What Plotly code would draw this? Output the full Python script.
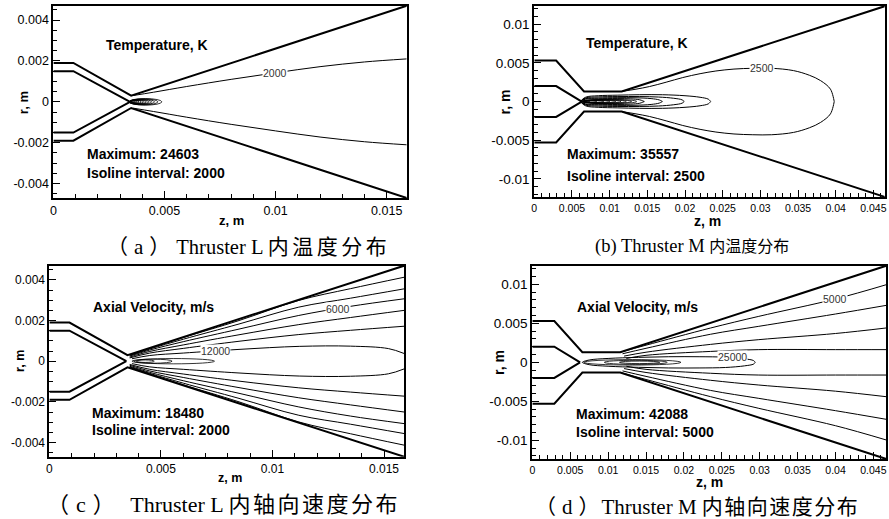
import plotly.graph_objects as go

# ---------------- tick labels ----------------
L_xtick_vals = [0, 0.005, 0.01, 0.015]
L_xtick_text = ["0", "0.005", "0.01", "0.015"]
L_ytick_vals = [0.004, 0.002, 0, -0.002, -0.004]
L_ytick_text = ["0.004", "0.002", "0", "-0.002", "-0.004"]
M_xtick_vals = [0, 0.005, 0.01, 0.015, 0.02, 0.025, 0.03, 0.035, 0.04, 0.045]
M_xtick_text = ["0", "0.005", "0.01", "0.015", "0.02", "0.025", "0.03", "0.035", "0.04", "0.045"]
M_ytick_vals = [0.01, 0.005, 0, -0.005, -0.01]
M_ytick_text = ["0.01", "0.005", "0", "-0.005", "-0.01"]

# ---------------- nozzle geometry (upper half, mirrored) ----------------
L_outer_z = [0, 0.0009, 0.0035, 0.0159]
L_outer_r = [0.0019, 0.0019, 0.0003, 0.0047]
L_cath_z = [0, 0.0009, 0.00345]
L_cath_r = [0.0015, 0.0015, 0.0]
M_outer_z = [0, 0.0029, 0.0066, 0.0116, 0.0467]
M_outer_r = [0.0053, 0.0053, 0.0013, 0.0013, 0.0124]
M_cath_z = [0, 0.0029, 0.0063]
M_cath_r = [0.002, 0.002, 0.0]

# ---------------- (a) temperature, thruster L ----------------
A_T2000_z = [0.0036, 0.0045, 0.006, 0.008, 0.010, 0.012, 0.014, 0.0159]
A_T2000_r = [0.00031, 0.00047, 0.00075, 0.00110, 0.00142, 0.00172, 0.00195, 0.00210]
A_loop_z0 = [0.00340, 0.00341, 0.00342, 0.00343, 0.00344, 0.00345, 0.00346, 0.00347, 0.00348, 0.00349, 0.00350]
A_loop_z1 = [0.00488, 0.00470, 0.00455, 0.00442, 0.00430, 0.00418, 0.00406, 0.00395, 0.00385, 0.00376, 0.00367]
A_loop_h = [0.00016, 0.000145, 0.00013, 0.000115, 0.0001, 0.00009, 0.00008, 0.00007, 0.00006, 0.00005, 0.00004]

# ---------------- (b) temperature, thruster M ----------------
B_T2500_z = [0.0116, 0.0135, 0.0153, 0.0175, 0.0197, 0.0220, 0.0241, 0.0265, 0.0290, 0.0315, 0.0344, 0.0365, 0.0380, 0.0393, 0.0398]
B_T2500_r = [0.0013, 0.0016, 0.00194, 0.0025, 0.0031, 0.0036, 0.00395, 0.0042, 0.0043, 0.0043, 0.0040, 0.0034, 0.0027, 0.0016, 0.0]
B_T5000_z = [0.0062, 0.0068, 0.0085, 0.0110, 0.0140, 0.0170, 0.0200, 0.0220, 0.0231, 0.0234]
B_T5000_r = [0.0, 0.00055, 0.00075, 0.00082, 0.00088, 0.00088, 0.00075, 0.00055, 0.00030, 0.0]
B_T7500_z = [0.0062, 0.0068, 0.0085, 0.0110, 0.0140, 0.0165, 0.0185, 0.0196, 0.0199]
B_T7500_r = [0.0, 0.00045, 0.0006, 0.00064, 0.00064, 0.00058, 0.00042, 0.00022, 0.0]
B_T10000_z = [0.0062, 0.0068, 0.0085, 0.0110, 0.0135, 0.0155, 0.0166, 0.0170]
B_T10000_r = [0.0, 0.00036, 0.00046, 0.0005, 0.00048, 0.00038, 0.0002, 0.0]
B_T12500_z = [0.0062, 0.0068, 0.0085, 0.0110, 0.0128, 0.0140, 0.0146]
B_T12500_r = [0.0, 0.0003, 0.00036, 0.00038, 0.00034, 0.00022, 0.0]
B_loop_z0 = [0.0063, 0.0063, 0.0064, 0.0064, 0.0065, 0.0065, 0.0066, 0.0066, 0.0067]
B_loop_z1 = [0.0136, 0.0129, 0.0122, 0.0115, 0.0108, 0.0100, 0.0092, 0.0083, 0.0074]
B_loop_h = [0.00028, 0.00025, 0.00022, 0.0002, 0.00017, 0.00015, 0.00012, 0.0001, 0.00007]

# ---------------- (c) axial velocity, thruster L ----------------
C_z = [0.0036, 0.0045, 0.006, 0.0085, 0.01118, 0.0135, 0.0159]
C_V2000_r = [0.00031, 0.00063, 0.00116, 0.0020, 0.00299, 0.00357, 0.00413]
C_V4000_r = [0.00028, 0.0006, 0.00108, 0.00183, 0.00266, 0.0031, 0.00356]
C_V6000_r = [0.00025, 0.00055, 0.00096, 0.00158, 0.00225, 0.0027, 0.00307]
C_V8000_r = [0.0002, 0.00048, 0.0008, 0.0013, 0.0018, 0.00215, 0.0025]
C_V10000_r = [0.00016, 0.0004, 0.00063, 0.00098, 0.00131, 0.00152, 0.00172]
C_V12000_z = [0.0037, 0.0045, 0.006, 0.0085, 0.0112, 0.0135, 0.0152, 0.0159]
C_V12000_r = [0.00012, 0.00028, 0.0004, 0.00058, 0.00073, 0.00074, 0.00062, 0.00038]
C_loop_z0 = [0.0037, 0.0038, 0.0039]
C_loop_z1 = [0.0074, 0.0055, 0.0047]
C_loop_h = [0.00013, 0.0001, 0.00006]

# ---------------- (d) axial velocity, thruster M ----------------
D_V5000_z = [0.0117, 0.015, 0.0235, 0.02988, 0.0400, 0.0467]
D_V5000_r = [0.00132, 0.0022, 0.0044, 0.0059, 0.00813, 0.00996]
D_V10000_z = [0.0119, 0.015, 0.0235, 0.02988, 0.0400, 0.0467]
D_V10000_r = [0.0011, 0.0018, 0.0036, 0.00462, 0.0062, 0.00731]
D_V15000_z = [0.0121, 0.015, 0.0235, 0.02988, 0.0400, 0.0467]
D_V15000_r = [0.0008, 0.0013, 0.0023, 0.00291, 0.0037, 0.00441]
D_V20000_z = [0.0124, 0.015, 0.0235, 0.02988, 0.0400, 0.0467]
D_V20000_r = [0.0005, 0.0009, 0.0014, 0.00163, 0.00163, 0.00163]
D_V25000_z = [0.0066, 0.0075, 0.0100, 0.0140, 0.0180, 0.0220, 0.0255, 0.0280, 0.0292, 0.0294]
D_V25000_r = [0.0, 0.0003, 0.0005, 0.00064, 0.00072, 0.00072, 0.00066, 0.00045, 0.00022, 0.0]
D_loop_z0 = [0.0068, 0.0095, 0.0115]
D_loop_z1 = [0.0196, 0.0178, 0.0168]
D_loop_h = [0.00035, 0.00026, 0.00016]

# ---------------- texts ----------------
titles = ["Temperature, K", "Temperature, K", "Axial Velocity, m/s", "Axial Velocity, m/s"]
maxima = ["Maximum: 24603", "Maximum: 35557", "Maximum: 18480", "Maximum: 42088"]
intervals = ["Isoline interval: 2000", "Isoline interval: 2500", "Isoline interval: 2000", "Isoline interval: 5000"]
# caption pieces: (opening, closing, latin part, chinese part)
caption_parts = [("（a", "）", "Thruster L ", "内温度分布"),
                 ("(b", ") ", "Thruster M ", "内温度分布"),
                 ("（c", "） ", "Thruster L ", "内轴向速度分布"),
                 ("（d", "）", "Thruster M ", "内轴向速度分布")]

ARIAL = "Arial, Liberation Sans, sans-serif"
SERIF = "Liberation Serif, Times New Roman, Noto Sans CJK SC, serif"


def sym_open(z, r):
    return list(z) + [None] + list(z), list(r) + [None] + [-v for v in r]


def sym_loop(z, r):
    return list(z) + list(z)[::-1], list(r) + [-v for v in list(r)[::-1]]


fig = go.Figure()


def add_lines(segs, k, width, shape):
    xs, ys = [], []
    for sx, sy in segs:
        if xs:
            xs.append(None)
            ys.append(None)
        xs += sx
        ys += sy
    sfx = "" if k == 1 else str(k)
    fig.add_trace(go.Scatter(x=xs, y=ys, mode="lines",
                             line=dict(color="black", width=width, shape=shape, smoothing=1.0),
                             xaxis="x" + sfx, yaxis="y" + sfx, hoverinfo="skip", showlegend=False))


shapes = []


def add_ellipses(z0s, z1s, hs, k):
    sfx = "" if k == 1 else str(k)
    for z0, z1, h in zip(z0s, z1s, hs):
        shapes.append(dict(type="circle", xref="x" + sfx, yref="y" + sfx,
                           x0=z0, x1=z1, y0=-h, y1=h,
                           line=dict(color="black", width=0.8)))


# walls
for k, (oz, orr, cz, cr) in enumerate([(L_outer_z, L_outer_r, L_cath_z, L_cath_r),
                                         (M_outer_z, M_outer_r, M_cath_z, M_cath_r),
                                         (L_outer_z, L_outer_r, L_cath_z, L_cath_r),
                                         (M_outer_z, M_outer_r, M_cath_z, M_cath_r)], start=1):
    add_lines([sym_open(oz, orr), sym_open(cz, cr)], k, 2, "linear")

# (a)
add_lines([sym_open(A_T2000_z, A_T2000_r)], 1, 1, "spline")
add_ellipses(A_loop_z0, A_loop_z1, A_loop_h, 1)
# (b)
add_lines([sym_loop(B_T2500_z, B_T2500_r), sym_loop(B_T5000_z, B_T5000_r),
           sym_loop(B_T7500_z, B_T7500_r), sym_loop(B_T10000_z, B_T10000_r),
           sym_loop(B_T12500_z, B_T12500_r)], 2, 1, "spline")
add_ellipses(B_loop_z0, B_loop_z1, B_loop_h, 2)
# (c)
add_lines([sym_open(C_z, C_V2000_r), sym_open(C_z, C_V4000_r), sym_open(C_z, C_V6000_r),
           sym_open(C_z, C_V8000_r), sym_open(C_z, C_V10000_r),
           sym_open(C_V12000_z, C_V12000_r)], 3, 1, "spline")
add_ellipses(C_loop_z0, C_loop_z1, C_loop_h, 3)
# (d)
add_lines([sym_open(D_V5000_z, D_V5000_r), sym_open(D_V10000_z, D_V10000_r),
           sym_open(D_V15000_z, D_V15000_r), sym_open(D_V20000_z, D_V20000_r),
           sym_loop(D_V25000_z, D_V25000_r)], 4, 1, "spline")
add_ellipses(D_loop_z0, D_loop_z1, D_loop_h, 4)

# ---------------- axes ----------------
panels = [
    dict(xd=[0.0570, 0.4567], yd=[0.6185, 0.9890], xr=[0, 0.0159], yr=[-0.0047, 0.0047],
         xv=L_xtick_vals, xt=L_xtick_text, yv=L_ytick_vals, yt=L_ytick_text,
         xminor=0.001, yminor=0.0005, xfs=12.5, yfs=12.5),
    dict(xd=[0.6010, 0.9974], yd=[0.6198, 0.9890], xr=[0, 0.0465], yr=[-0.0124, 0.0124],
         xv=M_xtick_vals, xt=M_xtick_text, yv=M_ytick_vals, yt=M_ytick_text,
         xminor=0.001, yminor=0.001, xfs=10.5, yfs=13.5),
    dict(xd=[0.0525, 0.4537], yd=[0.1200, 0.4881], xr=[0, 0.0159], yr=[-0.0047, 0.0047],
         xv=L_xtick_vals, xt=L_xtick_text, yv=L_ytick_vals, yt=L_ytick_text,
         xminor=0.001, yminor=0.0005, xfs=12, yfs=12),
    dict(xd=[0.5988, 0.9992], yd=[0.1156, 0.4881], xr=[0, 0.0467], yr=[-0.0124, 0.0124],
         xv=M_xtick_vals, xt=M_xtick_text, yv=M_ytick_vals, yt=M_ytick_text,
         xminor=0.001, yminor=0.001, xfs=10.5, yfs=13.5),
]

layout = dict(width=889, height=519, margin=dict(l=0, r=0, t=0, b=0),
              paper_bgcolor="white", plot_bgcolor="white", showlegend=False)

for k, p in enumerate(panels, start=1):
    sfx = "" if k == 1 else str(k)
    common = dict(showline=True, linewidth=2, linecolor="black", mirror=True,
                  showgrid=False, zeroline=False, ticks="inside", ticklen=7,
                  tickwidth=1, tickcolor="black", tickmode="array")
    layout["xaxis" + sfx] = dict(domain=p["xd"], range=p["xr"], anchor="y" + sfx,
                                 tickvals=p["xv"], ticktext=p["xt"],
                                 tickfont=dict(family=ARIAL, size=p["xfs"], color="black"),
                                 minor=dict(ticks="inside", ticklen=4, tickwidth=1, tickcolor="black",
                                            dtick=p["xminor"], tick0=0, showgrid=False),
                                 **common)
    layout["yaxis" + sfx] = dict(domain=p["yd"], range=p["yr"], anchor="x" + sfx,
                                 tickvals=p["yv"], ticktext=p["yt"],
                                 tickfont=dict(family=ARIAL, size=p["yfs"], color="black"),
                                 minor=dict(ticks="inside", ticklen=4, tickwidth=1, tickcolor="black",
                                            dtick=p["yminor"], tick0=0, showgrid=False),
                                 **common)

# ---------------- annotations ----------------
ann = []
text_pos = [
    dict(t=(0.00229, 0.0028), m=(0.00144, -0.00257), i=(0.00144, -0.0035)),
    dict(t=(0.00656, 0.00752), m=(0.00405, -0.0068), i=(0.00405, -0.00964)),
    dict(t=(0.00187, 0.00265), m=(0.00182, -0.00255), i=(0.00182, -0.00338)),
    dict(t=(0.0056, 0.00714), m=(0.00547, -0.00658), i=(0.00547, -0.00888)),
]
for k, tp in enumerate(text_pos, start=1):
    sfx = "" if k == 1 else str(k)
    for key, txt in (("t", titles[k - 1]), ("m", maxima[k - 1]), ("i", intervals[k - 1])):
        ann.append(dict(x=tp[key][0], y=tp[key][1], xref="x" + sfx, yref="y" + sfx,
                        text="<b>" + txt + "</b>", showarrow=False, xanchor="left", yanchor="middle",
                        font=dict(family=ARIAL, size=14, color="black")))

# isoline labels
iso_labels = [
    (1, "2000", 0.00996, 0.00141),
    (2, "2500", 0.0302, 0.0043),
    (3, "6000", 0.01294, 0.00255),
    (3, "12000", 0.00743, 0.00048),
    (4, "5000", 0.0399, 0.00813),
    (4, "25000", 0.0264, 0.00066),
]
for k, txt, z, r in iso_labels:
    sfx = "" if k == 1 else str(k)
    ann.append(dict(x=z, y=r, xref="x" + sfx, yref="y" + sfx, text=txt, showarrow=False,
                    xanchor="center", yanchor="middle", bgcolor="white", borderpad=0,
                    font=dict(family=ARIAL, size=10.5, color="#333333")))

# axis titles
z_title_pos = [(0.2584, 0.5742, 13), (0.7975, 0.5742, 14), (0.2565, 0.0790, 12.5), (0.7987, 0.0719, 14)]
r_title_pos = [(0.0225, 0.8029, 13), (0.5680, 0.8029, 14), (0.0191, 0.3044, 12.5), (0.5602, 0.3012, 14)]
for (x, y, s) in z_title_pos:
    ann.append(dict(x=x, y=y, xref="paper", yref="paper", text="<b>z, m</b>", showarrow=False,
                    xanchor="center", yanchor="middle", font=dict(family=ARIAL, size=s, color="black")))
for (x, y, s) in r_title_pos:
    ann.append(dict(x=x, y=y, xref="paper", yref="paper", text="<b>r, m</b>", showarrow=False,
                    textangle=-90, xanchor="center", yanchor="middle",
                    font=dict(family=ARIAL, size=s, color="black")))

# captions: (prefix size, opening spacing, closing spacing, latin size, cjk size, cjk spacing)
cap_pos = [(0.2773, 0.5241), (0.7790, 0.5241), (0.2497, 0.0270), (0.7846, 0.0237)]
cap_style = [(21, 6, 6, 20.5, 21, 3.5), (18.5, 0, 0, 18.5, 16, 0),
             (22, 7, 5, 22, 22, 2.5), (21, 6, 2, 21, 21, 1.5)]
for (x, y), (op, cl, lat, cjk), (sp, ols, cls, sl, sc, ls) in zip(cap_pos, caption_parts, cap_style):
    txt = ('<span style="font-size:%spx;letter-spacing:%spx">%s</span>'
           '<span style="font-size:%spx;letter-spacing:%spx">%s</span>'
           '<span style="font-size:%spx">%s</span>'
           '<span style="font-size:%spx;letter-spacing:%spx">%s</span>'
           % (sp, ols, op, sp, cls, cl, sl, lat, sc, ls, cjk))
    ann.append(dict(x=x, y=y, xref="paper", yref="paper", text=txt, showarrow=False,
                    xanchor="center", yanchor="middle", font=dict(family=SERIF, size=17, color="black")))

layout["annotations"] = ann
layout["shapes"] = shapes
fig.update_layout(**layout)
fig.write_html("out.html", config={"displayModeBar": False, "staticPlot": True},
               post_script="document.body.style.margin='0px';document.body.style.padding='0px';"
                           "document.documentElement.style.overflow='hidden';")
